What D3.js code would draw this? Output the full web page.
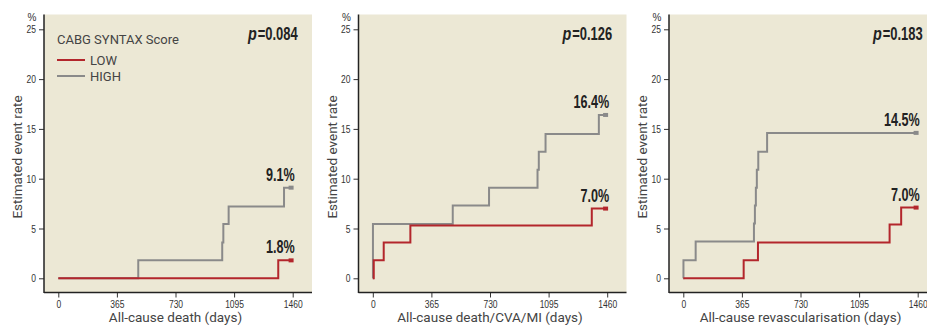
<!DOCTYPE html>
<html>
<head>
<meta charset="utf-8">
<script src="https://cdn.jsdelivr.net/npm/d3@7/dist/d3.min.js"></script>
<style>
  body { margin: 0; background: #fff; }
  svg { display: block; }
  .tick text { font-family: "Liberation Sans", Arial, sans-serif; font-size: 11.5px; fill: #333; }
  .title { font-family: Roboto, "Liberation Sans", sans-serif; fill: #444; }
  .big { font-family: "Liberation Sans", Arial, sans-serif; font-weight: bold; fill: #222; }
</style>
</head>
<body>
<svg id="chart" width="927" height="325"></svg>
<script>
const xTicks = [0, 365, 730, 1095, 1460];
const yTicks = [0, 5, 10, 15, 20, 25];
const endDay = 1450;

// [day, estimated event rate %]
const deathLow = [[0, 0], [1370, 1.8]];
const deathHigh = [[0, 0], [498, 1.8], [1021, 3.6], [1028, 5.45], [1061, 7.2], [1406, 9.1]];
const mainLow = [[0, 0], [6, 1.8], [68, 3.6], [234, 5.3], [1364, 7.0]];
const mainHigh = [[0, 0], [1, 5.45], [498, 7.3], [724, 9.1], [1026, 10.9], [1034, 12.7], [1076, 14.5], [1408, 16.4]];
const revascLow = [[0, 0], [376, 1.8], [465, 3.6], [1285, 5.4], [1357, 7.1]];
const revascHigh = [[0, 0], [1, 1.8], [77, 3.7], [440, 5.5], [446, 7.3], [452, 9.1], [458, 10.9], [467, 12.7], [522, 14.6]];

const panelTitles = ['All-cause death (days)', 'All-cause death/CVA/MI (days)', 'All-cause revascularisation (days)'];
const pValues = ['0.084', '0.126', '0.183'];
const lowLabels = ['1.8%', '7.0%', '7.0%'];
const highLabels = ['9.1%', '16.4%', '14.5%'];

const panels = [
  { low: deathLow, high: deathHigh },
  { low: mainLow, high: mainHigh },
  { low: revascLow, high: revascHigh }
];

const offsets = [0, 314.5, 625];
const red = '#b3262c';
const grey = '#8a8a8a';
const bg = '#ece8d5';

const svg = d3.select('#chart');

const x = d3.scaleLinear().domain([0, 1460]).range([58.3, 292.7]);
const y = d3.scaleLinear().domain([0, 25]).range([278.3, 29.3]);

const line = d3.line()
  .x(d => x(d[0]))
  .y(d => y(d[1]))
  .curve(d3.curveStepAfter);

function withEnd(series) {
  return series.concat([[endDay, series[series.length - 1][1]]]);
}

// the original uses a condensed face, so squeeze the glyphs horizontally
function squeeze(sel, f) {
  let total = 0;
  sel.each(function() {
    const t = d3.select(this);
    const tx = +t.attr('x') || 0;
    const ty = +t.attr('y') || 0;
    total += this.getComputedTextLength() * f;
    t.attr('x', 0).attr('y', 0)
      .attr('transform', `translate(${tx},${ty}) scale(${f},1)`);
  });
  return total;
}

panels.forEach((p, i) => {
  const g = svg.append('g').attr('transform', `translate(${offsets[i]},0)`);

  g.append('rect')
    .attr('x', 44).attr('y', 14.5)
    .attr('width', 268).attr('height', 278)
    .attr('fill', bg);

  // y axis
  const yAxis = g.append('g')
    .attr('transform', 'translate(44,0)')
    .call(d3.axisLeft(y).tickValues(yTicks).tickSize(5).tickPadding(3));
  yAxis.select('.domain').remove();
  yAxis.selectAll('.tick line').attr('stroke', '#333');
  squeeze(yAxis.selectAll('.tick text'), 0.74);

  // x axis
  const xAxis = g.append('g')
    .attr('transform', 'translate(0,292.5)')
    .call(d3.axisBottom(x).tickValues(xTicks).tickFormat(d3.format('d')).tickSize(5).tickPadding(2));
  xAxis.select('.domain').remove();
  xAxis.selectAll('.tick line').attr('stroke', '#333');
  squeeze(xAxis.selectAll('.tick text'), 0.74);

  g.append('line')
    .attr('x1', 44).attr('x2', 44).attr('y1', 14.5).attr('y2', 293)
    .attr('stroke', '#222').attr('stroke-width', 1.5);
  g.append('line')
    .attr('x1', 44).attr('x2', 312).attr('y1', 292.5).attr('y2', 292.5)
    .attr('stroke', '#222').attr('stroke-width', 1.5);

  g.append('text')
    .attr('x', 32).attr('y', 21)
    .attr('text-anchor', 'middle')
    .attr('font-family', '"Liberation Sans", sans-serif')
    .attr('font-size', 10).attr('fill', '#333')
    .text('%');

  g.append('text')
    .attr('class', 'title')
    .attr('transform', 'translate(22,157) rotate(-90)')
    .attr('text-anchor', 'middle')
    .attr('font-size', 13.5)
    .text('Estimated event rate');

  g.append('text')
    .attr('class', 'title')
    .attr('x', (x(0) + x(1460)) / 2).attr('y', 322)
    .attr('text-anchor', 'middle')
    .attr('font-size', 13.5)
    .text(panelTitles[i]);

  // step curves
  [[p.high, grey], [p.low, red]].forEach(([s, c]) => {
    const pts = withEnd(s);
    g.append('path')
      .attr('d', line(pts))
      .attr('fill', 'none')
      .attr('stroke', c)
      .attr('stroke-width', 2);
    const last = pts[pts.length - 1];
    g.append('rect')
      .attr('x', x(last[0]) - 2.5).attr('y', y(last[1]) - 2)
      .attr('width', 5).attr('height', 4)
      .attr('fill', c);
  });

  const highEnd = p.high[p.high.length - 1][1];
  const lowEnd = p.low[p.low.length - 1][1];
  [[highEnd, highLabels[i]], [lowEnd, lowLabels[i]]].forEach(([v, label]) => {
    const t = g.append('text')
      .attr('class', 'big')
      .attr('x', x(1460) + 2).attr('y', y(v) - 7)
      .attr('text-anchor', 'end')
      .attr('font-size', 17.5)
      .text(label);
    squeeze(t, 0.72);
  });

  // p value: italic p then the number
  const num = g.append('text')
    .attr('class', 'big')
    .attr('x', x(1460) + 5).attr('y', 40)
    .attr('text-anchor', 'end')
    .attr('font-size', 18)
    .text('=' + pValues[i]);
  const w = squeeze(num, 0.72);
  const pl = g.append('text')
    .attr('class', 'big')
    .attr('x', x(1460) + 4 - w).attr('y', 40)
    .attr('text-anchor', 'end')
    .attr('font-size', 18)
    .attr('font-style', 'italic')
    .text('p');
  squeeze(pl, 0.8);
});

// legend in first panel
const lg = svg.append('g');
lg.append('text')
  .attr('class', 'title')
  .attr('x', 57).attr('y', 44)
  .attr('font-size', 13)
  .text('CABG SYNTAX Score');
[['LOW', red, 60], ['HIGH', grey, 76]].forEach(([name, c, yy]) => {
  lg.append('line')
    .attr('x1', 57).attr('x2', 85).attr('y1', yy).attr('y2', yy)
    .attr('stroke', c).attr('stroke-width', 2);
  lg.append('text')
    .attr('class', 'title')
    .attr('x', 90).attr('y', yy + 4.5)
    .attr('font-size', 13)
    .text(name);
});
</script>
</body>
</html>
